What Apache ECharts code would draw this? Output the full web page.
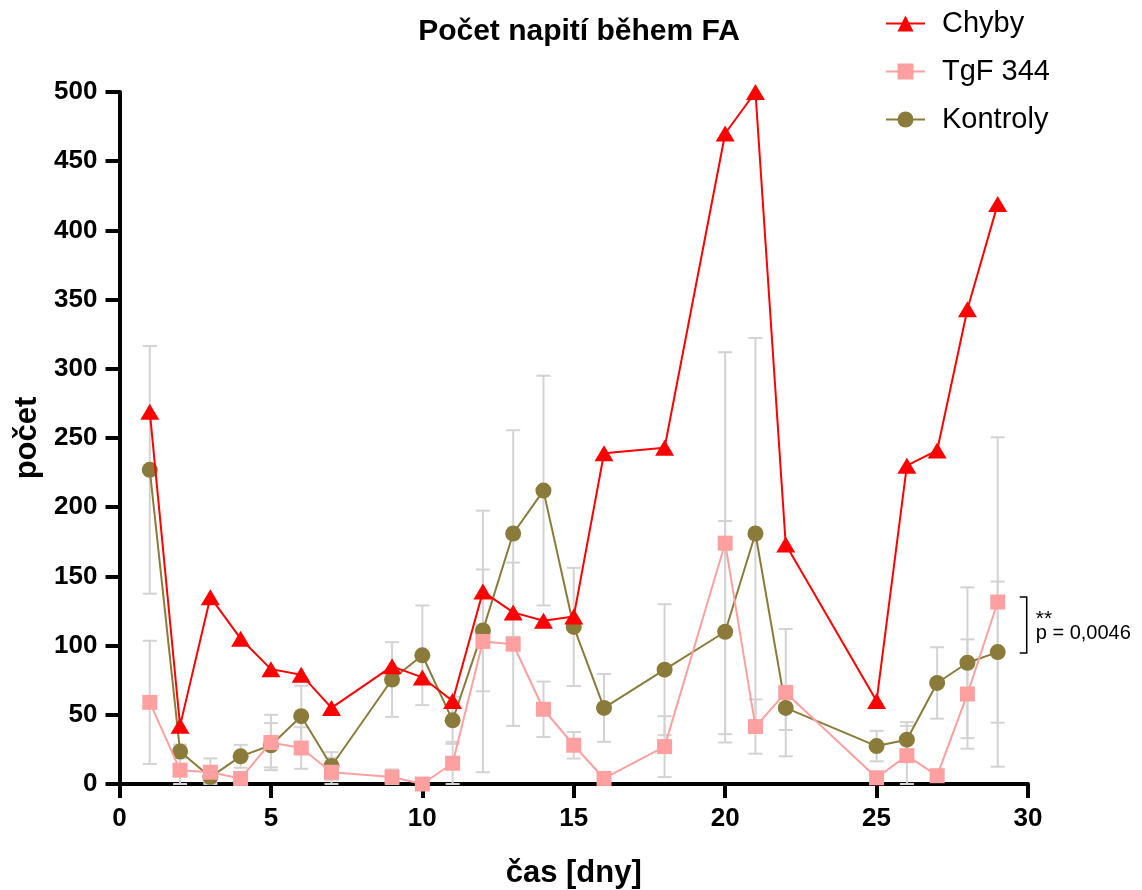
<!DOCTYPE html>
<html>
<head>
<meta charset="utf-8">
<script src="https://cdn.jsdelivr.net/npm/echarts@6/dist/echarts.min.js"></script>
<style>
  html, body { margin: 0; padding: 0; background: #fff; }
  #chart { width: 1142px; height: 890px; }
</style>
</head>
<body>
<div id="chart"></div>
<script>
// dny měření
const days = [1, 2, 3, 4, 5, 6, 7, 9, 10, 11, 12, 13, 14, 15, 16, 18, 20, 21, 22, 25, 26, 27, 28, 29];

// průměry
const chyby    = [269, 42, 135, 105, 83, 79, 55, 85, 77, 60, 139, 124, 118, 121, 239, 243, 470, 500, 173, 60, 230, 241, 343, 419];
const tgf      = [59, 10, 8.5, 4, 30, 26, 8.5, 5, 0, 15, 103, 101, 54, 28, 4, 27, 174, 41.5, 66, 4.5, 20.5, 6, 65, 131.5];
const kontroly = [227, 23.5, 5, 20, 28, 49, 13, 75.5, 93, 46, 111, 181, 212, 113.5, 55, 82.6, 110, 181, 55, 27.4, 32, 73, 87.6, 95.3];

// chybové úsečky (SD)
const tgfErr      = [44.5, 10.8, 10, 3, 20, 15, 10.5, 5.5, 0, 15.5, 94.5, 59, 20, 9.6, 3, 22, 138, 19.6, 46, 3, 21.5, 3, 39.5, 119];
const kontrolyErr = [89.5, 5, 4, 8.3, 16, 22, 10, 27, 36, 17, 44, 74.6, 83, 42.7, 24.5, 47.3, 80, 141.3, 16, 11, 12.7, 25.8, 54.5, 51];

const tickLabelsX = [0, 5, 10, 15, 20, 25, 30];

const RED = '#ff0000';
const PINK = '#ffa0a0';
const OLIVE = '#8b7b3a';
const FONT = 'Liberation Sans, Arial, sans-serif';

const toPts = (vals) => days.map((d, i) => [d, vals[i]]);
const toErr = (vals, err) => days.map((d, i) => [d, Math.max(0, vals[i] - err[i]), vals[i] + err[i]]);

// chybová úsečka s krytkami
const renderErr = (params, api) => {
    const x = api.value(0);
    const lo = api.coord([x, api.value(1)]);
    const hi = api.coord([x, api.value(2)]);
    const w = 7;
    const style = { stroke: '#d3d3d3', lineWidth: 2 };
    return {
        type: 'group',
        children: [
            { type: 'line', shape: { x1: lo[0], y1: lo[1], x2: hi[0], y2: hi[1] }, style },
            { type: 'line', shape: { x1: hi[0] - w, y1: hi[1], x2: hi[0] + w, y2: hi[1] }, style },
            { type: 'line', shape: { x1: lo[0] - w, y1: lo[1], x2: lo[0] + w, y2: lo[1] }, style }
        ]
    };
};

const chart = echarts.init(document.getElementById('chart'));

const option = {
    animation: false,
    textStyle: { fontFamily: FONT },
    title: {
        text: 'Počet napití během FA',
        left: 574,
        top: 12,
        textAlign: 'center',
        textStyle: { fontSize: 30, fontWeight: 'bold', color: '#000', fontFamily: FONT }
    },
    legend: {
        orient: 'vertical',
        left: 880,
        top: 4,
        itemWidth: 39,
        itemHeight: 20,
        itemGap: 19,
        textStyle: { fontSize: 29, color: '#000', fontFamily: FONT, padding: [0, 0, 0, 12] },
        data: ['Chyby', 'TgF 344', 'Kontroly']
    },
    grid: { left: 119.5, right: 114, top: 92, bottom: 106, outerBoundsMode: 'none', containLabel: false },
    xAxis: {
        type: 'value',
        min: 0,
        max: 30,
        interval: 5,
        name: 'čas [dny]',
        nameLocation: 'middle',
        nameGap: 74,
        nameTextStyle: { fontSize: 31, fontWeight: 'bold', color: '#000' },
        splitLine: { show: false },
        axisLine: { lineStyle: { color: '#000', width: 4 } },
        axisTick: { show: true, length: 14, lineStyle: { color: '#000', width: 4 } },
        axisLabel: {
            fontSize: 26, fontWeight: 'bold', color: '#000', margin: 22,
            formatter: (v) => tickLabelsX.includes(v) ? String(v) : ''
        }
    },
    yAxis: {
        type: 'value',
        min: 0,
        max: 500,
        interval: 50,
        name: 'počet',
        nameLocation: 'middle',
        nameGap: 76,
        nameTextStyle: { fontSize: 31, fontWeight: 'bold', color: '#000' },
        splitLine: { show: false },
        axisLine: { show: true, lineStyle: { color: '#000', width: 4 } },
        axisTick: { show: true, length: 14, lineStyle: { color: '#000', width: 4 } },
        axisLabel: { fontSize: 26, fontWeight: 'bold', color: '#000', margin: 22 }
    },
    series: [
        {
            type: 'custom',
            name: 'tgfErr',
            renderItem: renderErr,
            data: toErr(tgf, tgfErr),
            encode: { x: 0, y: [1, 2] },
            z: 1,
            silent: true
        },
        {
            type: 'custom',
            name: 'kontrolyErr',
            renderItem: renderErr,
            data: toErr(kontroly, kontrolyErr),
            encode: { x: 0, y: [1, 2] },
            z: 1,
            silent: true
        },
        {
            name: 'Kontroly',
            type: 'line',
            data: toPts(kontroly),
            symbol: 'circle',
            symbolSize: 16,
            lineStyle: { color: OLIVE, width: 2 },
            itemStyle: { color: OLIVE },
            z: 3
        },
        {
            name: 'TgF 344',
            type: 'line',
            data: toPts(tgf),
            symbol: 'rect',
            symbolSize: 15,
            lineStyle: { color: PINK, width: 2 },
            itemStyle: { color: PINK },
            z: 4
        },
        {
            name: 'Chyby',
            type: 'line',
            data: toPts(chyby),
            symbol: 'triangle',
            symbolSize: [19, 16],
            lineStyle: { color: RED, width: 2 },
            itemStyle: { color: RED },
            z: 5
        }
    ]
};

chart.setOption(option);

// závorka se significancí u posledního dne
const last = days.length - 1;
const pTop = chart.convertToPixel({ gridIndex: 0 }, [days[last], tgf[last]]);
const pBot = chart.convertToPixel({ gridIndex: 0 }, [days[last], kontroly[last]]);
const bx = pTop[0] + 29;
const y1 = pTop[1] - 5;
const y2 = pBot[1] + 1;
chart.setOption({
    graphic: [
        {
            type: 'polyline',
            shape: { points: [[bx - 7, y1], [bx, y1], [bx, y2], [bx - 7, y2]] },
            style: { stroke: '#000', lineWidth: 1.5, fill: null }
        },
        {
            type: 'text',
            x: bx + 9,
            y: (y1 + y2) / 2 - 6,
            style: { text: '**', fontSize: 21, fill: '#000', fontFamily: FONT, verticalAlign: 'middle' }
        },
        {
            type: 'text',
            x: bx + 9,
            y: (y1 + y2) / 2 + 8,
            style: { text: 'p = 0,0046', fontSize: 20, fill: '#000', fontFamily: FONT, verticalAlign: 'middle' }
        }
    ]
});
</script>
</body>
</html>
